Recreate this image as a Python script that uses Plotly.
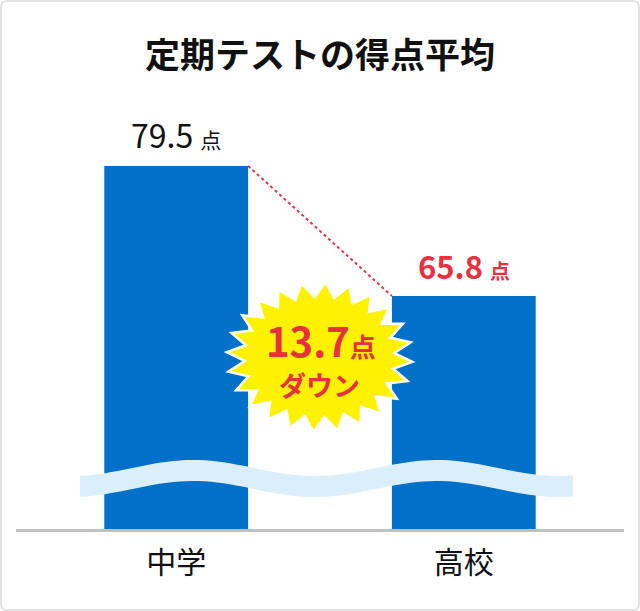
import numpy as np
import plotly.graph_objects as go

# data
categories = ["中学", "高校"]
scores = [79.5, 65.8]
drop = 13.7
title = "定期テストの得点平均"

W, H = 640, 611
L, R, T, B = 16, 16, 0, 82
PW, PH = W - L - R, H - T - B
FONT = "Noto Sans CJK JP"
BLUE = "#0070c9"
RED = "#e8303f"


def px(x, y):
    # pixel coords -> paper coords
    return (x - L) / PW, (H - B - y) / PH


def path_from(points, close=True):
    s = ""
    for i, (x, y) in enumerate(points):
        a, b = px(x, y)
        s += ("M" if i == 0 else "L") + f"{a:.5f},{b:.5f} "
    return s + ("Z" if close else "")


fig = go.Figure()
fig.add_trace(go.Bar(x=[0, 1], y=scores, width=0.5, marker_color=BLUE,
                     marker_line_width=0, hoverinfo="skip"))
# dotted connector between bar tops
fig.add_trace(go.Scatter(x=[0.25, 0.75], y=scores, mode="lines",
                         line=dict(color=RED, width=2, dash="dot"),
                         hoverinfo="skip"))

shapes = []
# wave band (axis break)
xs = np.linspace(80, 573, 80)
top = 468 - 8 * np.cos(2 * np.pi * (xs - 193) / 244)
pts = list(zip(xs, top)) + list(zip(xs[::-1], top[::-1] + 21))
shapes.append(dict(type="path", xref="paper", yref="paper", path=path_from(pts),
                   fillcolor="#dbeefc", line=dict(width=0), layer="above"))

# starburst
n = 24
cx, cy = 319.5, 357
ang = np.arange(2 * n) * np.pi / n + np.pi / n / 2
rx = np.where(np.arange(2 * n) % 2 == 0, 93, 75)
ry = np.where(np.arange(2 * n) % 2 == 0, 75, 60)
star = list(zip(cx + rx * np.cos(ang), cy + ry * np.sin(ang)))
shapes.append(dict(type="path", xref="paper", yref="paper", path=path_from(star),
                   fillcolor="#fff200", line=dict(color="white", width=2.5), layer="above"))

# outer rounded frame
r = 6
x0, y0, x1, y1 = 1, 1, W - 1, H - 1
a0, b0 = px(x0, y0)
a1, b1 = px(x1, y1)
rxp, ryp = r / PW, r / PH
frame = (f"M{a0 + rxp},{b0} L{a1 - rxp},{b0} Q{a1},{b0} {a1},{b0 - ryp} "
         f"L{a1},{b1 + ryp} Q{a1},{b1} {a1 - rxp},{b1} L{a0 + rxp},{b1} "
         f"Q{a0},{b1} {a0},{b1 + ryp} L{a0},{b0 - ryp} Q{a0},{b0} {a0 + rxp},{b0} Z")
shapes.append(dict(type="path", xref="paper", yref="paper", path=frame,
                   line=dict(color="#e3e3e3", width=2), layer="above"))

annotations = [
    dict(x=0, y=scores[0], xref="x", yref="y", yshift=32, showarrow=False,
         text=f"{scores[0]} <span style='font-size:21px'>点</span>",
         font=dict(family=FONT, size=32, color="#111")),
    dict(x=1, y=scores[1], xref="x", yref="y", yshift=31, showarrow=False,
         text=f"<b>{scores[1]} <span style='font-size:20px'>点</span></b>",
         font=dict(family=FONT, size=31, color=RED)),
]
sx, sy = px(321, 340)
annotations.append(dict(x=sx, y=sy, xref="paper", yref="paper", showarrow=False,
                        xanchor="center", yanchor="middle",
                        text=f"<b>{drop}<span style='font-size:26px'>点</span></b>",
                        font=dict(family=FONT, size=40, color=RED)))
dx, dy = px(319, 384)
annotations.append(dict(x=dx, y=dy, xref="paper", yref="paper", showarrow=False,
                        xanchor="center", yanchor="middle",
                        text="<b>ダウン</b>",
                        font=dict(family=FONT, size=27, color=RED)))

fig.update_layout(
    width=W, height=H,
    margin=dict(l=L, r=R, t=T, b=B),
    paper_bgcolor="white", plot_bgcolor="white",
    showlegend=False,
    title=dict(text=f"<b>{title}</b>", x=0.5, xref="paper", y=1 - 56 / H, yanchor="middle",
               font=dict(family=FONT, size=35, color="#111")),
    xaxis=dict(range=[-0.557, 1.557], tickvals=[0, 1], ticktext=categories,
               showgrid=False, zeroline=False, showline=True, linecolor="#c0c0c0",
               linewidth=3, ticks="", ticklabelstandoff=5,
               tickfont=dict(family=FONT, size=30, color="#111")),
    yaxis=dict(range=[41.25, 96.99], visible=False, showgrid=False),
    shapes=shapes,
    annotations=annotations,
)

fig.write_html("out.html", config={"displayModeBar": False},
               post_script="document.body.style.margin='0';")
